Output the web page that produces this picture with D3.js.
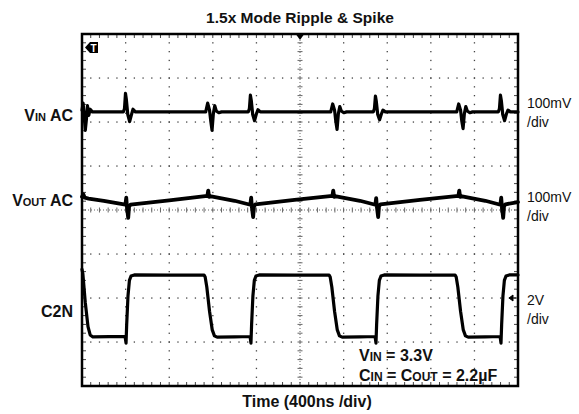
<!DOCTYPE html>
<html>
<head>
<meta charset="utf-8">
<script src="https://cdn.jsdelivr.net/npm/d3@7"></script>
<style>
  body { margin: 0; background: #fff; }
  svg { display: block; font-family: "Liberation Sans", Arial, sans-serif; }
</style>
</head>
<body>
<script>
// Eje horizontal: tiempo en ns (400 ns/div, 10 div); vertical en divisiones (8 div)
const timeDomain = [0, 4000];
const divDomain = [-4, 4];
const nsPerDiv = 400;

// Canales: referencia (div) y escala (unidad/div)
const vinOffset = 2.23, vinPerDiv = 100;     // mV
const voutOffset = 0.22, voutPerDiv = 100;   // mV
const c2nOffset = -2.0, c2nPerDiv = 2;       // V

// V_IN AC [t ns, mV]
const vinTrace = [
  [0, 4], [10, 20], [20, -8], [30, -42], [40, -18], [50, 14], [62, -8], [75, 6], [95, 0],
  [380, 0], [390, 8], [399, 42], [407, 28], [420, -6], [437, -22], [452, -8], [468, 6], [490, 0],
  [1135, 0], [1153, 20], [1170, 4], [1182, -22], [1193, -42], [1205, -4], [1218, 14], [1232, 2], [1255, -2], [1280, 0],
  [1526, 0], [1536, 8], [1545, 38], [1553, 26], [1566, -6], [1583, -20], [1598, -6], [1614, 5], [1636, 0],
  [2282, 0], [2300, 18], [2317, 4], [2329, -22], [2340, -40], [2352, -4], [2365, 12], [2379, 2], [2402, -2], [2427, 0],
  [2673, 0], [2683, 8], [2692, 36], [2700, 24], [2713, -6], [2730, -18], [2745, -6], [2761, 4], [2783, 0],
  [3438, 0], [3456, 18], [3473, 4], [3485, -22], [3496, -38], [3508, -4], [3521, 12], [3535, 2], [3558, -2], [3583, 0],
  [3820, 0], [3830, 8], [3839, 38], [3847, 26], [3860, -6], [3877, -20], [3892, -6], [3908, 4], [3930, 0], [4000, 0]
];

// V_OUT AC [t ns, mV]
const voutTrace = [
  [0, 8], [12, 14], [25, 6], [60, 4], [200, -1], [398, -10], [406, 6], [412, -14], [424, -40], [432, -14], [445, -10],
  [800, 0], [1150, 10], [1158, 22], [1166, 8], [1185, 9], [1400, -1], [1544, -10], [1552, 6], [1558, -14], [1570, -38], [1578, -14], [1591, -9],
  [1950, 1], [2297, 10], [2305, 22], [2313, 8], [2332, 9], [2550, -1], [2691, -10], [2699, 5], [2705, -14], [2717, -38], [2725, -14], [2738, -9],
  [3100, 1], [3453, 10], [3461, 22], [3469, 8], [3488, 9], [3700, -1], [3838, -10], [3846, 6], [3852, -14], [3864, -40], [3872, -14], [3885, -9], [4000, -4]
];

// C2N [t ns, V]
const c2nTrace = [
  [0, 1.3], [8, 1.1], [30, -0.2], [55, -1.3], [75, -1.68], [100, -1.77], [250, -1.76], [395, -1.74],
  [404, -2.05], [410, -1.2], [422, 0.1], [435, 0.8], [450, 1.0], [480, 1.05], [800, 1.04], [1120, 1.04],
  [1130, 0.95], [1145, 0.5], [1170, -0.6], [1195, -1.45], [1215, -1.72], [1240, -1.78], [1400, -1.77], [1542, -1.75],
  [1550, -2.05], [1556, -1.2], [1568, 0.1], [1581, 0.8], [1596, 1.0], [1626, 1.05], [1950, 1.04], [2267, 1.04],
  [2277, 0.95], [2292, 0.5], [2317, -0.6], [2342, -1.45], [2362, -1.72], [2387, -1.78], [2550, -1.77], [2689, -1.75],
  [2697, -2.05], [2703, -1.2], [2715, 0.1], [2728, 0.8], [2743, 1.0], [2773, 1.05], [3100, 1.04], [3423, 1.04],
  [3433, 0.95], [3448, 0.5], [3473, -0.6], [3498, -1.45], [3518, -1.72], [3543, -1.78], [3700, -1.77], [3836, -1.75],
  [3844, -2.05], [3850, -1.2], [3862, 0.1], [3875, 0.8], [3890, 1.0], [3920, 1.05], [4000, 1.05]
];

// Textos
const titleText = '1.5x Mode Ripple & Spike';
const xLabelText = 'Time (400ns /div)';
const channelLabels = [
  { main: 'V', sub: 'IN', rest: ' AC', y: 121 },
  { main: 'V', sub: 'OUT', rest: ' AC', y: 206 },
  { main: 'C2N', sub: '', rest: '', y: 317 }
];
const scaleLabels = [
  { lines: ['100mV', '/div'], y: 108 },
  { lines: ['100mV', '/div'], y: 202 },
  { lines: ['2V', '/div'], y: 305 }
];

const width = 579, height = 414;
const plot = { left: 82, right: 518, top: 34, bottom: 386 };

const svg = d3.select('body').append('svg')
  .attr('width', width)
  .attr('height', height);

const x = d3.scaleLinear().domain(timeDomain).range([plot.left, plot.right]);
const y = d3.scaleLinear().domain(divDomain).range([plot.bottom, plot.top]);

// Retícula
const majorT = d3.range(timeDomain[0] + nsPerDiv, timeDomain[1], nsPerDiv);
const majorV = d3.range(divDomain[0] + 1, divDomain[1], 1);
const minorT = d3.range(0, 4000.01, nsPerDiv / 5);
const minorV = d3.range(-4, 4.001, 0.2);

const grid = svg.append('g').attr('fill', '#444');
const dots = [];
majorT.filter(t => t !== 2000).forEach(t => minorV.forEach(v => dots.push([t, v])));
majorV.filter(v => v !== 0).forEach(v => minorT.forEach(t => dots.push([t, v])));
grid.selectAll('rect.dot').data(dots).join('rect')
  .attr('class', 'dot')
  .attr('x', d => x(d[0]) - 0.6).attr('y', d => y(d[1]) - 0.6)
  .attr('width', 1.3).attr('height', 1.3);

// Cruz central
const cross = svg.append('g').attr('stroke', '#666').attr('stroke-width', 1);
cross.append('line')
  .attr('x1', x(2000)).attr('x2', x(2000)).attr('y1', y(4)).attr('y2', y(-4))
  .attr('stroke-dasharray', '1,2');
cross.append('line')
  .attr('x1', x(0)).attr('x2', x(4000)).attr('y1', y(0)).attr('y2', y(0))
  .attr('stroke-dasharray', '1,2');
cross.selectAll('line.tx').data(minorT).join('line').attr('class', 'tx')
  .attr('x1', d => x(d)).attr('x2', d => x(d)).attr('y1', y(0) - 2.5).attr('y2', y(0) + 2.5);
cross.selectAll('line.ty').data(minorV).join('line').attr('class', 'ty')
  .attr('y1', d => y(d)).attr('y2', d => y(d)).attr('x1', x(2000) - 2.5).attr('x2', x(2000) + 2.5);

// Marcas del borde
const edge = svg.append('g').attr('stroke', '#444').attr('stroke-width', 1);
edge.selectAll('line.bt').data(minorT).join('line').attr('class', 'bt')
  .attr('x1', d => x(d)).attr('x2', d => x(d)).attr('y1', plot.top).attr('y2', plot.top + 4);
edge.selectAll('line.bb').data(minorT).join('line').attr('class', 'bb')
  .attr('x1', d => x(d)).attr('x2', d => x(d)).attr('y1', plot.bottom).attr('y2', plot.bottom - 4);
edge.selectAll('line.bl').data(minorV).join('line').attr('class', 'bl')
  .attr('y1', d => y(d)).attr('y2', d => y(d)).attr('x1', plot.left).attr('x2', plot.left + 4);
edge.selectAll('line.br').data(minorV).join('line').attr('class', 'br')
  .attr('y1', d => y(d)).attr('y2', d => y(d)).attr('x1', plot.right).attr('x2', plot.right - 4);

// Trazas
const traceLine = (offset, perDiv) => d3.line()
  .x(d => x(d[0]))
  .y(d => y(offset + d[1] / perDiv));

const traces = svg.append('g')
  .attr('fill', 'none').attr('stroke', '#000')
  .attr('stroke-linejoin', 'round').attr('stroke-linecap', 'round');
traces.append('path').attr('d', traceLine(vinOffset, vinPerDiv)(vinTrace)).attr('stroke-width', 3.2);
traces.append('path').attr('d', traceLine(voutOffset, voutPerDiv)(voutTrace)).attr('stroke-width', 3.8);
traces.append('path').attr('d', traceLine(c2nOffset, c2nPerDiv)(c2nTrace)).attr('stroke-width', 3.2);

// Marco
svg.append('rect')
  .attr('x', plot.left).attr('y', plot.top)
  .attr('width', plot.right - plot.left).attr('height', plot.bottom - plot.top)
  .attr('fill', 'none').attr('stroke', '#000').attr('stroke-width', 2.5);

// Marcador de disparo (arriba, centro)
const tx = x(2000);
svg.append('path')
  .attr('d', `M${tx - 5},${plot.top - 1} L${tx + 5},${plot.top - 1} L${tx},${plot.top + 6} Z`)
  .attr('fill', '#000');

// Marcador "T"
svg.append('path')
  .attr('d', 'M85,47.5 L90,42 L98,42 L98,53 L90,53 Z')
  .attr('fill', '#000');
svg.append('text')
  .attr('x', 93.5).attr('y', 51.5)
  .attr('text-anchor', 'middle')
  .attr('font-size', 10).attr('font-weight', 'bold')
  .attr('fill', '#fff')
  .text('T');

// Marcador de tierra de C2N
const gy = y(c2nOffset);
svg.append('path')
  .attr('d', `M${plot.right - 9},${gy} L${plot.right - 5},${gy - 3} L${plot.right - 5},${gy + 3} Z M${plot.right - 5},${gy} L${plot.right - 2},${gy}`)
  .attr('fill', '#000').attr('stroke', '#000').attr('stroke-width', 1);

// Título y etiqueta del eje
svg.append('text')
  .attr('x', 300).attr('y', 23)
  .attr('text-anchor', 'middle')
  .attr('font-size', 15.5).attr('font-weight', 'bold')
  .attr('fill', '#111')
  .text(titleText);
svg.append('text')
  .attr('x', 307).attr('y', 407)
  .attr('text-anchor', 'middle')
  .attr('font-size', 16).attr('font-weight', 'bold')
  .attr('fill', '#111')
  .text(xLabelText);

// Etiquetas de canal
const chan = svg.append('g')
  .attr('font-size', 16).attr('font-weight', 'bold').attr('fill', '#111')
  .attr('text-anchor', 'end');
channelLabels.forEach(d => {
  const t = chan.append('text').attr('x', 73).attr('y', d.y);
  t.append('tspan').text(d.main);
  if (d.sub) t.append('tspan').attr('font-size', 11).text(d.sub);
  if (d.rest) t.append('tspan').text(d.rest);
});

// Escalas por división
const sc = svg.append('g').attr('font-size', 14).attr('fill', '#111');
scaleLabels.forEach(d => {
  d.lines.forEach((l, i) => {
    sc.append('text').attr('x', 527).attr('y', d.y + i * 19).text(l);
  });
});

// Condiciones
const cond = svg.append('g').attr('font-size', 16).attr('font-weight', 'bold').attr('fill', '#111');
const c1 = cond.append('text').attr('x', 359).attr('y', 361);
c1.append('tspan').text('V');
c1.append('tspan').attr('font-size', 12).text('IN');
c1.append('tspan').text(' = 3.3V');
const c2 = cond.append('text').attr('x', 359).attr('y', 381);
c2.append('tspan').text('C');
c2.append('tspan').attr('font-size', 12).text('IN');
c2.append('tspan').text(' = C');
c2.append('tspan').attr('font-size', 12).text('OUT');
c2.append('tspan').text(' = 2.2µF');
</script>
</body>
</html>
